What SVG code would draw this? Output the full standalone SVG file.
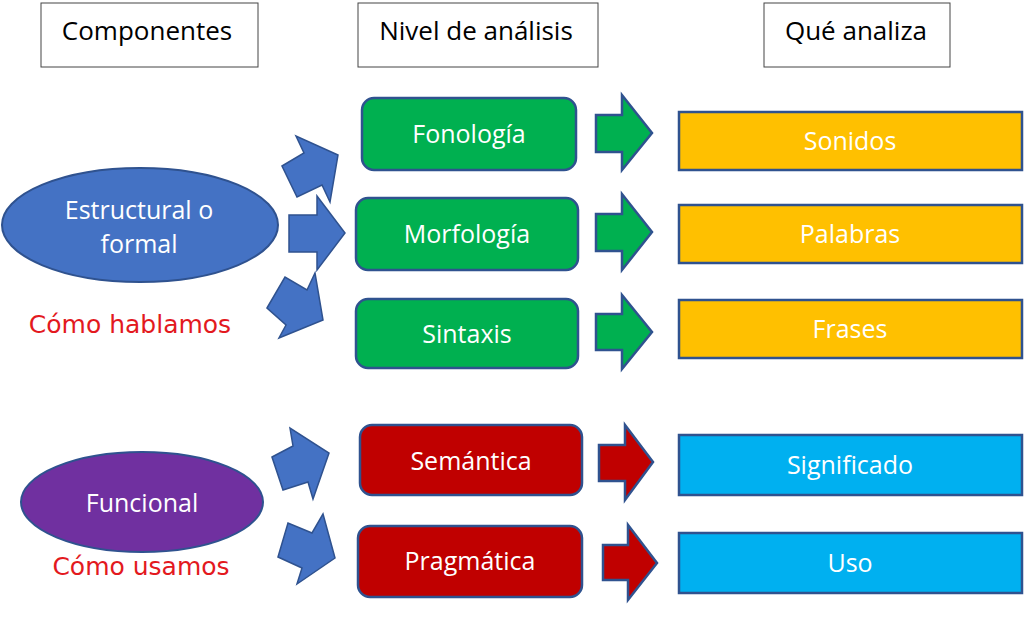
<svg xmlns="http://www.w3.org/2000/svg" width="1024" height="637" viewBox="0 0 1024 637">
<style>
.hdr{fill:#fff;stroke:#444;stroke-width:1}
.ht{font-family:"Open Sans","Liberation Sans",sans-serif;font-size:26px;fill:#000;text-anchor:middle;dominant-baseline:central}
.t{font-family:"Open Sans","Liberation Sans",sans-serif;font-size:25px;fill:#fff;text-anchor:middle;dominant-baseline:central}
.hand{font-family:"Comic Sans MS","DejaVu Sans",sans-serif;font-size:25px;fill:#e3191e;text-anchor:middle}
.green{fill:#00b050;stroke:#2f528f;stroke-width:2.5}
.red{fill:#c00000;stroke:#2f528f;stroke-width:2.5}
.orange{fill:#ffc000;stroke:#2f528f;stroke-width:2.5}
.cyan{fill:#00b0f0;stroke:#2f528f;stroke-width:2.5}
.barrow{fill:#4472c4;stroke:#2f528f;stroke-width:1.5;stroke-linejoin:miter}
</style>
<rect width="1024" height="637" fill="#fff"/>
<g id="hdr-componentes"><rect class="hdr" x="41" y="3" width="217" height="64"/><text class="ht" x="147" y="30">Componentes</text></g>
<g id="hdr-nivel"><rect class="hdr" x="358" y="3" width="240" height="64"/><text class="ht" x="476" y="30">Nivel de análisis</text></g>
<g id="hdr-que"><rect class="hdr" x="764" y="3" width="186" height="64"/><text class="ht" x="856" y="30">Qué analiza</text></g>

<g id="estructural"><ellipse cx="140" cy="225" rx="138" ry="57" fill="#4472c4" stroke="#2f528f" stroke-width="2"/><text class="t" x="139" y="209">Estructural o</text><text class="t" x="139" y="243">formal</text></g>
<g id="label-hablamos"><text class="hand" x="130" y="333">Cómo hablamos</text></g>
<g id="funcional"><ellipse cx="142" cy="502" rx="121" ry="50" fill="#7030a0" stroke="#2f528f" stroke-width="2"/><text class="t" x="142" y="502">Funcional</text></g>
<g id="label-usamos"><text class="hand" x="141" y="575">Cómo usamos</text></g>

<g id="fonologia"><rect class="green" x="362" y="98" width="214" height="72" rx="12"/><text class="t" x="469" y="133">Fonología</text></g>
<g id="morfologia"><rect class="green" x="356" y="198" width="222" height="72" rx="12"/><text class="t" x="467" y="233">Morfología</text></g>
<g id="sintaxis"><rect class="green" x="356" y="299" width="222" height="69" rx="12"/><text class="t" x="467" y="333">Sintaxis</text></g>
<g id="semantica"><rect class="red" x="360" y="425" width="222" height="70" rx="12"/><text class="t" x="471" y="460">Semántica</text></g>
<g id="pragmatica"><rect class="red" x="358" y="526" width="224" height="71" rx="12"/><text class="t" x="470" y="560">Pragmática</text></g>

<g id="sonidos"><rect class="orange" x="679" y="112" width="343" height="58"/><text class="t" x="850" y="140">Sonidos</text></g>
<g id="palabras"><rect class="orange" x="679" y="205" width="343" height="58"/><text class="t" x="850" y="233">Palabras</text></g>
<g id="frases"><rect class="orange" x="679" y="300" width="343" height="58"/><text class="t" x="850" y="328">Frases</text></g>
<g id="significado"><rect class="cyan" x="679" y="435" width="343" height="60"/><text class="t" x="850" y="464">Significado</text></g>
<g id="uso"><rect class="cyan" x="679" y="533" width="343" height="60"/><text class="t" x="850" y="562">Uso</text></g>

<g id="connectors">
<polygon class="barrow" points="282,166 304,153 296,136 338,155 330,202 322,185 297,197"/>
<polygon class="barrow" points="289,215 317,215 317,196 345,233 317,270 317,252 289,252"/>
<polygon class="barrow" points="267,308 285,277 307,290 315,273 323,320 279,338 286,325"/>
<polygon class="barrow" points="272,457 293,446 290,428 329,453 313,499 308,482 283,490"/>
<polygon class="barrow" points="278,557 288,523 312,533 323,514 335,558 297,584 302,568"/>
<polygon class="green" points="596,115 622,115 622,95 652,133 622,170 622,152 596,152"/>
<polygon class="green" points="596,214 622,214 622,194 652,232 622,270 622,251 596,251"/>
<polygon class="green" points="596,314 622,314 622,295 652,332 622,369 622,350 596,350"/>
<polygon class="red" points="599,445 625,445 625,425 653,462 625,500 625,481 599,481"/>
<polygon class="red" points="603,545 628,545 628,525 657,563 628,600 628,580 603,580"/>
</g>
</svg>
